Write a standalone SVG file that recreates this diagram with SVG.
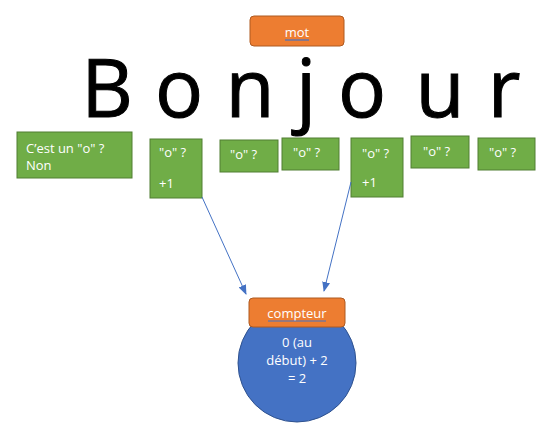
<svg xmlns="http://www.w3.org/2000/svg" width="544" height="438" viewBox="0 0 544 438">
<style>
.g{fill:#70AD47;stroke:#507E32;stroke-width:1}
.o{fill:#ED7D31;stroke:#AE5A21;stroke-width:1}
.t{font-family:"Open Sans","Liberation Sans",sans-serif;font-size:13px;fill:#fff}
.big{font-family:"Open Sans","Liberation Sans",sans-serif;font-size:80px;fill:#000;stroke:#000;stroke-width:1;text-anchor:middle}
.c{text-anchor:middle}
.ul{stroke:#4472C4;stroke-width:1.2}
.a{stroke:#4472C4;stroke-width:1;fill:none;marker-end:url(#ah)}
</style>
<defs>
<marker id="ah" markerWidth="10" markerHeight="8" refX="9" refY="4" orient="auto" markerUnits="userSpaceOnUse">
<path d="M0,0 L10,4 L0,8 Z" fill="#4472C4"/>
</marker>
</defs>
<rect width="544" height="438" fill="#fff"/>
<g id="bonjour">
<text class="big" x="107" y="117">B</text>
<text class="big" x="179" y="117">o</text>
<text class="big" x="250" y="117">n</text>
<text class="big" x="306" y="117">j</text>
<text class="big" x="362" y="117">o</text>
<text class="big" x="440" y="117">u</text>
<text class="big" x="504" y="117">r</text>
</g>
<g id="mot">
<rect class="o" x="250" y="16" width="94" height="30" rx="4"/>
<text class="t c" x="297" y="37">mot</text>
<line class="ul" x1="285" y1="40" x2="309" y2="40"/>
</g>
<g id="compteur">
<circle cx="297" cy="363" r="59" fill="#4472C4" stroke="#2F528F" stroke-width="1"/>
<rect class="o" x="249" y="298" width="96" height="29" rx="4"/>
<text class="t c" x="297" y="318">compteur</text>
<line class="ul" x1="268" y1="321" x2="326" y2="321"/>
<text class="t c" x="297" y="347">0 (au</text>
<text class="t c" x="297" y="365">début) + 2</text>
<text class="t c" x="297" y="383">= 2</text>
</g>
<g id="q1">
<rect class="g" x="17" y="132" width="115" height="46"/>
<text class="t" x="26" y="153">C’est un "o" ?</text>
<text class="t" x="26" y="170">Non</text>
</g>
<g id="q2">
<rect class="g" x="150" y="139" width="52" height="59"/>
<text class="t" x="159" y="157">"o" ?</text>
<text class="t" x="159" y="188">+1</text>
</g>
<g id="q3">
<rect class="g" x="220" y="140" width="58" height="32"/>
<text class="t" x="230" y="159">"o" ?</text>
</g>
<g id="q4">
<rect class="g" x="282" y="138" width="57" height="32"/>
<text class="t" x="293" y="157">"o" ?</text>
</g>
<g id="q5">
<rect class="g" x="351" y="138" width="52" height="59"/>
<text class="t" x="362" y="158">"o" ?</text>
<text class="t" x="362" y="187">+1</text>
</g>
<g id="q6">
<rect class="g" x="411" y="136" width="58" height="32"/>
<text class="t" x="423" y="156">"o" ?</text>
</g>
<g id="q7">
<rect class="g" x="478" y="138" width="57" height="32"/>
<text class="t" x="489" y="157">"o" ?</text>
</g>
<g id="connectors">
<line class="a" x1="202" y1="197" x2="246" y2="294"/>
<line class="a" x1="351" y1="182" x2="324" y2="291"/>
</g>
</svg>
